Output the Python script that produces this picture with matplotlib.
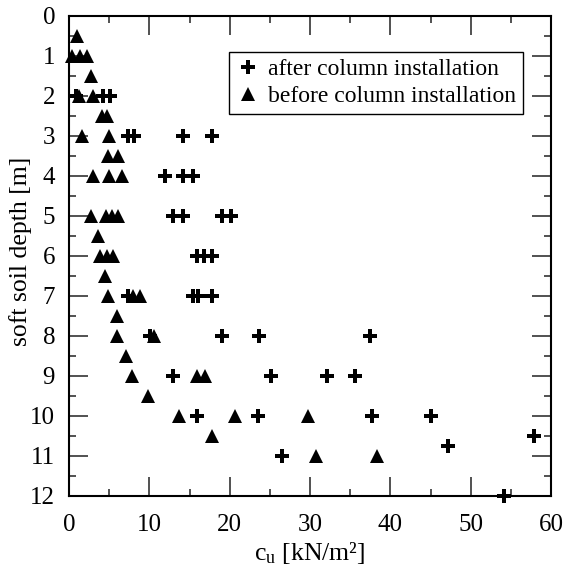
import numpy as np
import matplotlib
matplotlib.use('Agg')
import matplotlib.pyplot as plt
from matplotlib.ticker import MultipleLocator

plt.rcParams['font.family'] = ['Liberation Serif', 'DejaVu Serif']
plt.rcParams['mathtext.fontset'] = 'custom'
plt.rcParams['mathtext.rm'] = 'Liberation Serif'
plt.rcParams['mathtext.it'] = 'Liberation Serif'

# after column installation (crosses)
after_depth = [2, 2, 2,
               3, 3, 3, 3,
               4, 4, 4,
               5, 5, 5, 5,
               6, 6, 6,
               7, 7, 7, 7,
               8, 8, 8, 8,
               9, 9, 9, 9,
               10, 10, 10, 10,
               10.5, 10.75, 11, 12]
after_cu = [0.9, 4.2, 5.1,
            7.3, 8.1, 14.2, 17.8,
            12.0, 14.2, 15.4,
            13.0, 14.2, 19.1, 20.2,
            15.9, 16.8, 17.8,
            7.3, 15.4, 16.1, 17.8,
            10.1, 19.1, 23.6, 37.5,
            13.0, 25.1, 32.1, 35.6,
            15.9, 23.5, 37.7, 45.1,
            57.9, 47.2, 26.5, 54.2]

# before column installation (triangles)
before_depth = [0.5,
                1, 1, 1,
                1.5,
                2, 2,
                2.5, 2.5,
                3, 3,
                3.5, 3.5,
                4, 4, 4,
                5, 5, 5, 5,
                5.5,
                6, 6, 6,
                6.5,
                7, 7, 7,
                7.5,
                8, 8,
                8.5,
                9, 9, 9,
                9.5,
                10, 10, 10,
                10.5,
                11, 11]
before_cu = [1.0,
             0.4, 1.4, 2.2,
             2.7,
             1.2, 3.0,
             4.1, 4.7,
             1.6, 5.0,
             4.9, 6.1,
             3.0, 5.0, 6.6,
             2.8, 4.6, 5.4, 6.1,
             3.6,
             3.9, 4.7, 5.5,
             4.5,
             4.9, 8.0, 8.8,
             6.0,
             6.0, 10.6,
             7.1,
             7.8, 15.9, 16.9,
             9.8,
             13.7, 20.7, 29.8,
             17.8,
             30.8, 38.3]

fig = plt.figure(figsize=(5.63, 5.67), dpi=100)
ax = fig.add_axes([69/563, 71/567, 482/563, 480/567])

ax.plot(after_cu, after_depth, 'kP', markersize=9.5, markeredgewidth=0,
        linestyle='none', clip_on=False, label='after column installation', zorder=3)
ax.plot(before_cu, before_depth, 'k^', markersize=10, markeredgewidth=0,
        linestyle='none', clip_on=False, label='before column installation', zorder=3)

ax.set_xlim(0, 60)
ax.set_ylim(12, 0)
ax.xaxis.set_major_locator(MultipleLocator(10))
ax.xaxis.set_minor_locator(MultipleLocator(5))
ax.yaxis.set_major_locator(MultipleLocator(1))
ax.yaxis.set_minor_locator(MultipleLocator(0.5))
ax.tick_params(which='both', direction='in', top=True, right=True,
               labelsize=18, color='#333333')
ax.tick_params(which='major', length=14, width=1.2)
ax.tick_params(which='minor', length=5, width=1.2)
ax.tick_params(axis='x', which='major', pad=13)
ax.tick_params(axis='y', which='major', pad=10)
for s in ax.spines.values():
    s.set_linewidth(1.5)

ax.set_xlabel('c$_\\mathrm{u}$ [kN/m²]', fontsize=18.5, labelpad=3)
ax.set_ylabel('soft soil depth [m]', fontsize=18.5)
ax.yaxis.set_label_coords(-0.077, 0.51)

leg = ax.legend(loc='upper right', bbox_to_anchor=(0.942, 0.926), fontsize=17,
                fancybox=False, edgecolor='black', framealpha=1,
                handletextpad=0.35, borderpad=0.3, labelspacing=0.22,
                handlelength=1.0, borderaxespad=0)
leg.get_frame().set_linewidth(1.0)

fig.savefig('out.png', dpi=100)
